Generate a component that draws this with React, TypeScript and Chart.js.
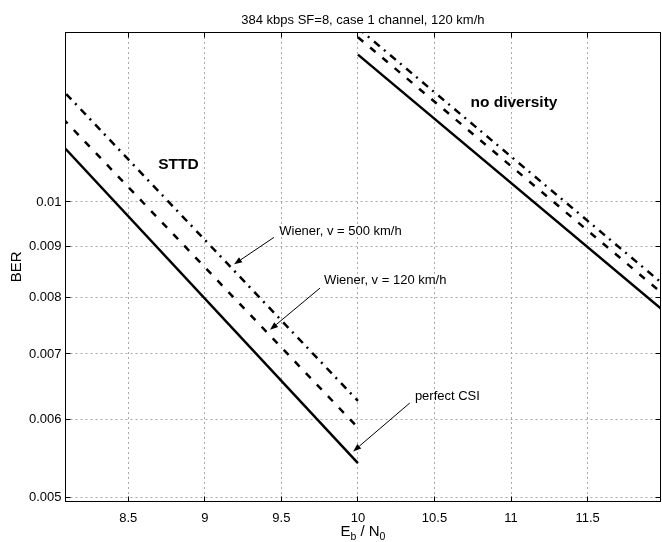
import React, { useEffect, useRef } from 'react';
import { Chart, registerables } from 'chart.js';

Chart.register(...registerables);

const FONT = '"Liberation Sans", Arial, Helvetica, sans-serif';

const titleText = '384 kbps SF=8, case 1 channel, 120 km/h';
const yAxisLabel = 'BER';

const xTicks = [8.5, 9, 9.5, 10, 10.5, 11, 11.5];
const xTickLabels = ['8.5', '9', '9.5', '10', '10.5', '11', '11.5'];
const yTicks = [0.005, 0.006, 0.007, 0.008, 0.009, 0.01];
const yTickLabels = ['0.005', '0.006', '0.007', '0.008', '0.009', '0.01'];
const xRange = [8.09, 11.975];
const yRange = [0.00495, 0.0149];

// STTD curves
const sttdEbN0 = [8, 10];
const sttdPerfectCSI = [0.01173, 0.00542];
const sttdWiener120 = [0.0125, 0.00589];
const sttdWiener500 = [0.01335, 0.00627];

// no diversity curves
const noDivEbN0 = [10, 12];
const noDivPerfectCSI = [0.01413, 0.00774];
const noDivWiener120 = [0.01472, 0.00804];
const noDivWiener500 = [0.01504, 0.00823];

// annotations (data coordinates)
const arrowLabels = ['Wiener, v = 500 km/h', 'Wiener, v = 120 km/h', 'perfect CSI'];
const arrowLabelAt = [[9.486, 0.00933], [9.778, 0.00831], [10.372, 0.00634]];
const arrowFrom = [[9.452, 0.009204], [9.752, 0.00817], [10.339, 0.00624]];
const arrowTo = [[9.191, 0.00864], [9.426, 0.00741], [9.969, 0.00557]];
const groupLabels = ['STTD', 'no diversity'];
const groupLabelAt = [[8.695, 0.01091], [10.735, 0.01261]];

const SOLID: number[] = [];
const DASHED = [7, 9];
const DASHDOT = [7.5, 5.5, 2, 6];

const mk = (xs: number[], ys: number[]) => xs.map((x, i) => ({ x, y: ys[i] }));

const matlabAxes = {
  id: 'matlabAxes',
  beforeDatasetsDraw(chart: any) {
    const { ctx, chartArea: a, scales } = chart;
    const x = scales.x;
    const y = scales.y;
    ctx.save();
    ctx.strokeStyle = '#a8a8a8';
    ctx.lineWidth = 1;
    ctx.setLineDash([2, 3]);
    x.ticks.forEach((t: any) => {
      const px = Math.floor(x.getPixelForValue(t.value)) + 0.5;
      ctx.beginPath();
      ctx.moveTo(px, a.top);
      ctx.lineTo(px, a.bottom);
      ctx.stroke();
    });
    y.ticks.forEach((t: any) => {
      const py = Math.floor(y.getPixelForValue(t.value)) + 0.5;
      ctx.beginPath();
      ctx.moveTo(a.left, py);
      ctx.lineTo(a.right, py);
      ctx.stroke();
    });
    ctx.restore();
  },
  afterDraw(chart: any) {
    const { ctx, chartArea: a, scales } = chart;
    const x = scales.x;
    const y = scales.y;
    ctx.save();
    ctx.setLineDash([]);
    ctx.strokeStyle = '#000';
    ctx.lineWidth = 1;
    const L = Math.floor(a.left) + 0.5;
    const R = Math.floor(a.right) + 0.5;
    const T = Math.floor(a.top) + 0.5;
    const B = Math.floor(a.bottom) + 0.5;
    ctx.strokeRect(L, T, R - L, B - T);
    const tl = 5;
    ctx.beginPath();
    x.ticks.forEach((t: any) => {
      const px = Math.floor(x.getPixelForValue(t.value)) + 0.5;
      ctx.moveTo(px, B); ctx.lineTo(px, B - tl);
      ctx.moveTo(px, T); ctx.lineTo(px, T + tl);
    });
    y.ticks.forEach((t: any) => {
      const py = Math.floor(y.getPixelForValue(t.value)) + 0.5;
      ctx.moveTo(L, py); ctx.lineTo(L + tl, py);
      ctx.moveTo(R, py); ctx.lineTo(R - tl, py);
    });
    ctx.stroke();

    // arrows
    ctx.fillStyle = '#000';
    arrowFrom.forEach((f, i) => {
      const x0 = x.getPixelForValue(f[0]);
      const y0 = y.getPixelForValue(f[1]);
      const x1 = x.getPixelForValue(arrowTo[i][0]);
      const y1 = y.getPixelForValue(arrowTo[i][1]);
      const ang = Math.atan2(y1 - y0, x1 - x0);
      const hl = 8;
      const hw = 3;
      const bx = x1 - hl * Math.cos(ang);
      const by = y1 - hl * Math.sin(ang);
      ctx.beginPath();
      ctx.moveTo(x0, y0);
      ctx.lineTo(bx, by);
      ctx.stroke();
      ctx.beginPath();
      ctx.moveTo(x1, y1);
      ctx.lineTo(bx + hw * Math.sin(ang), by - hw * Math.cos(ang));
      ctx.lineTo(bx - hw * Math.sin(ang), by + hw * Math.cos(ang));
      ctx.closePath();
      ctx.fill();
    });

    ctx.textAlign = 'left';
    ctx.textBaseline = 'middle';
    ctx.font = `13px ${FONT}`;
    arrowLabels.forEach((s, i) => {
      ctx.fillText(s, x.getPixelForValue(arrowLabelAt[i][0]), y.getPixelForValue(arrowLabelAt[i][1]));
    });
    ctx.font = `bold 15.5px ${FONT}`;
    groupLabels.forEach((s, i) => {
      ctx.fillText(s, x.getPixelForValue(groupLabelAt[i][0]), y.getPixelForValue(groupLabelAt[i][1]));
    });

    // title
    const cx = (a.left + a.right) / 2;
    ctx.textAlign = 'center';
    ctx.textBaseline = 'alphabetic';
    ctx.font = `13px ${FONT}`;
    ctx.fillText(titleText, cx, 24);

    // y label
    ctx.save();
    ctx.translate(17, (a.top + a.bottom) / 2);
    ctx.rotate(-Math.PI / 2);
    ctx.font = `15px ${FONT}`;
    ctx.textAlign = 'center';
    ctx.textBaseline = 'middle';
    ctx.fillText(yAxisLabel, 0, 0);
    ctx.restore();

    // x label: E_b / N_0
    const parts: [string, boolean][] = [['E', false], ['b', true], [' / N', false], ['0', true]];
    const big = `15px ${FONT}`;
    const small = `10.5px ${FONT}`;
    let total = 0;
    parts.forEach(([s, sub]) => { ctx.font = sub ? small : big; total += ctx.measureText(s).width; });
    let px = cx - total / 2;
    ctx.textAlign = 'left';
    parts.forEach(([s, sub]) => {
      ctx.font = sub ? small : big;
      ctx.fillText(s, px, sub ? 540 : 536);
      px += ctx.measureText(s).width;
    });
    ctx.restore();
  },
};

export default function App() {
  const ref = useRef<HTMLCanvasElement>(null);
  useEffect(() => {
    Chart.defaults.font.family = FONT;
    const common = {
      borderColor: '#000',
      backgroundColor: '#000',
      borderWidth: 2.5,
      pointRadius: 0,
      fill: false,
      tension: 0,
      clip: 0,
    };
    const chart = new Chart(ref.current as HTMLCanvasElement, {
      type: 'line',
      data: {
        datasets: [
          { ...common, label: 'STTD perfect CSI', data: mk(sttdEbN0, sttdPerfectCSI), borderDash: SOLID },
          { ...common, label: 'STTD Wiener 120', data: mk(sttdEbN0, sttdWiener120), borderDash: DASHED },
          { ...common, label: 'STTD Wiener 500', data: mk(sttdEbN0, sttdWiener500), borderDash: DASHDOT },
          { ...common, label: 'no div perfect CSI', data: mk(noDivEbN0, noDivPerfectCSI), borderDash: SOLID },
          { ...common, label: 'no div Wiener 120', data: mk(noDivEbN0, noDivWiener120), borderDash: DASHED },
          { ...common, label: 'no div Wiener 500', data: mk(noDivEbN0, noDivWiener500), borderDash: DASHDOT },
        ],
      } as any,
      options: {
        animation: false,
        responsive: false,
        maintainAspectRatio: false,
        layout: { padding: { top: 32, right: 1.7, left: 0, bottom: 0 } },
        plugins: { legend: { display: false }, title: { display: false }, tooltip: { enabled: false } },
        scales: {
          x: {
            type: 'linear',
            min: xRange[0],
            max: xRange[1],
            afterFit: (s: any) => { s.height = 40.3; },
            afterBuildTicks: (s: any) => { s.ticks = xTicks.map((v) => ({ value: v })); },
            ticks: {
              callback: (_v: any, i: number) => xTickLabels[i],
              font: { size: 13, family: FONT },
              color: '#000',
              padding: 9,
              maxRotation: 0,
              autoSkip: false,
            },
            grid: { display: false, drawTicks: false },
            border: { display: false },
          },
          y: {
            type: 'logarithmic',
            min: yRange[0],
            max: yRange[1],
            afterFit: (s: any) => { s.width = 65.5; },
            afterBuildTicks: (s: any) => { s.ticks = yTicks.map((v) => ({ value: v })); },
            ticks: {
              callback: (_v: any, i: number) => yTickLabels[i],
              font: { size: 13, family: FONT },
              color: '#000',
              padding: 4,
              autoSkip: false,
            },
            grid: { display: false, drawTicks: false },
            border: { display: false },
          },
        },
      } as any,
      plugins: [matlabAxes],
    });
    return () => chart.destroy();
  }, []);
  return (
    <div style={{ position: 'absolute', left: 0, top: 0, width: 662, height: 542, background: '#fff' }}>
      <canvas ref={ref} width={662} height={542} style={{ display: 'block', width: 662, height: 542 }} />
    </div>
  );
}
